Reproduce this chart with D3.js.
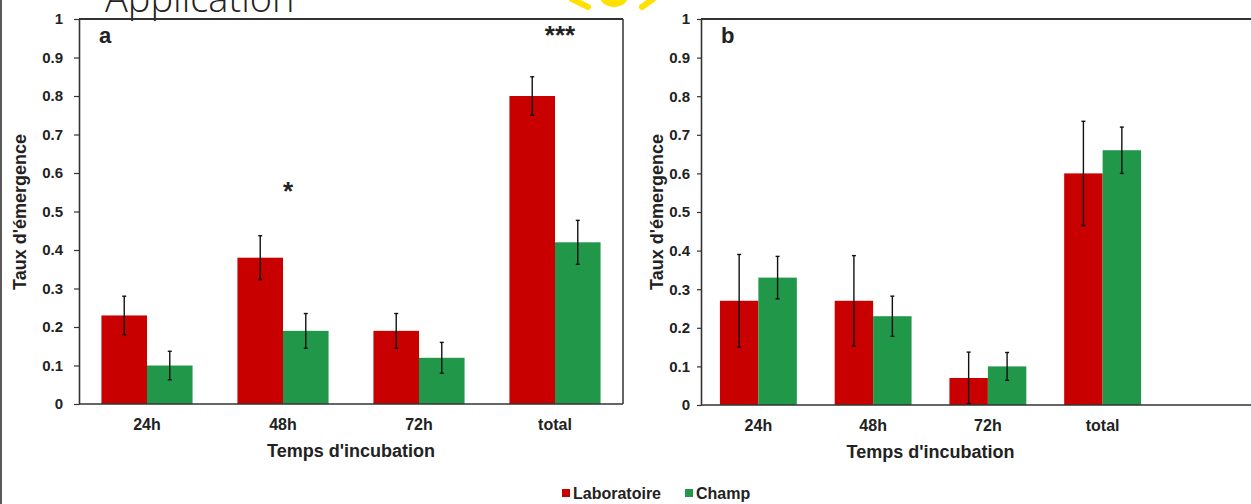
<!DOCTYPE html>
<html><head><meta charset="utf-8">
<script src="https://cdn.jsdelivr.net/npm/d3@7"></script>
<style>
html,body{margin:0;padding:0;background:#fff;}
svg{display:block;font-family:"Liberation Sans",Arial,sans-serif;}
</style></head>
<body><svg id="c" width="1251" height="504"></svg>
<script>
const categories = ["24h", "48h", "72h", "total"];
const series = ["Laboratoire", "Champ"];
const yTicks = [0, 0.1, 0.2, 0.3, 0.4, 0.5, 0.6, 0.7, 0.8, 0.9, 1];
// panel a
const labA = [0.23, 0.38, 0.19, 0.80];
const champA = [0.10, 0.19, 0.12, 0.42];
const labAErr = [0.05, 0.057, 0.045, 0.05];
const champAErr = [0.037, 0.045, 0.04, 0.057];
const sigA = ["", "*", "", "***"];
// panel b
const labB = [0.27, 0.27, 0.07, 0.60];
const champB = [0.33, 0.23, 0.10, 0.66];
const labBErr = [0.12, 0.117, 0.067, 0.135];
const champBErr = [0.055, 0.052, 0.036, 0.06];
const colors = ["#c80000", "#21974a"];

const svg = d3.select("#c");
svg.append("rect").attr("width",1251).attr("height",504).attr("fill","#fff");
// slide residue
svg.append("rect").attr("x",0).attr("y",0).attr("width",2).attr("height",504).attr("fill","#5a5a5a");
svg.append("text").attr("x",105).attr("y",12).attr("font-family","'Open Sans',sans-serif")
  .attr("font-weight",300).attr("font-size",38).attr("fill","#222").text("Application");
svg.append("ellipse").attr("cx",614).attr("cy",-6).attr("rx",15).attr("ry",13).attr("fill","#ffe100");
svg.append("line").attr("x1",572).attr("y1",-1).attr("x2",588).attr("y2",7)
  .attr("stroke","#ffe100").attr("stroke-width",6).attr("stroke-linecap","round");
svg.append("line").attr("x1",653).attr("y1",-1).attr("x2",642).attr("y2",7)
  .attr("stroke","#ffe100").attr("stroke-width",6).attr("stroke-linecap","round");

function panel(opt){
  const g = svg.append("g");
  const y = d3.scaleLinear().domain([0,1]).range([opt.y0, 19]);
  const x = d3.scaleBand().domain(categories).range([opt.x0, opt.x1]).paddingInner(0.33).paddingOuter(0.165);
  const xs = d3.scaleBand().domain(series).range([0, x.bandwidth()]);
  // frame
  g.append("line").attr("x1",opt.x0).attr("x2",opt.frameRight).attr("y1",19).attr("y2",19)
    .attr("stroke","#333").attr("stroke-width",1.8);
  if (opt.frameRight < 1251) {
    g.append("line").attr("x1",opt.frameRight).attr("x2",opt.frameRight).attr("y1",19).attr("y2",opt.y0)
      .attr("stroke","#333").attr("stroke-width",1.5);
  }
  // bars
  const vals = [opt.lab, opt.champ];
  const errs = [opt.labErr, opt.champErr];
  series.forEach((s, si) => {
    g.append("g").selectAll("rect").data(categories).join("rect")
      .attr("x", c => x(c) + xs(s))
      .attr("y", (c,i) => y(vals[si][i]))
      .attr("width", xs.bandwidth())
      .attr("height", (c,i) => y(0) - y(vals[si][i]))
      .attr("fill", colors[si]);
  });
  // error bars
  series.forEach((s, si) => {
    categories.forEach((c, i) => {
      const cx = x(c) + xs(s) + xs.bandwidth()/2;
      const hi = vals[si][i] + errs[si][i], lo = Math.max(0, vals[si][i] - errs[si][i]);
      g.append("line").attr("x1",cx).attr("x2",cx).attr("y1",y(hi)).attr("y2",y(lo))
        .attr("stroke","#111").attr("stroke-width",1.4);
      [hi, lo].forEach(v => g.append("line").attr("x1",cx-2).attr("x2",cx+2).attr("y1",y(v)).attr("y2",y(v))
        .attr("stroke","#111").attr("stroke-width",1.4));
    });
  });
  // y axis
  const ya = g.append("g").attr("transform",`translate(${opt.x0},0)`)
    .call(d3.axisLeft(y).tickValues(yTicks).tickFormat(d3.format("~g")).tickSizeInner(opt.tickSize).tickSizeOuter(0).tickPadding(opt.tickPad));
  ya.select(".domain").attr("stroke","#333").attr("stroke-width",1.6);
  ya.selectAll(".tick line").attr("stroke","#333").attr("stroke-width",1.2);
  ya.selectAll(".tick text").attr("font-size",15).attr("font-weight","bold").attr("fill","#222")
    .attr("font-family","'Liberation Sans',Arial,sans-serif");
  // x axis
  const xa = g.append("g").attr("transform",`translate(0,${opt.y0})`)
    .call(d3.axisBottom(x).tickSize(0).tickPadding(15));
  xa.select(".domain").remove();
  g.append("line").attr("x1",opt.x0).attr("x2",opt.frameRight).attr("y1",opt.y0).attr("y2",opt.y0)
    .attr("stroke","#333").attr("stroke-width",1.6);
  xa.selectAll(".tick text").attr("font-size",16).attr("font-weight","bold").attr("fill","#222")
    .attr("font-family","'Liberation Sans',Arial,sans-serif");
  // titles
  g.append("text").attr("x",(opt.x0+opt.x1)/2).attr("y",opt.y0+53).attr("text-anchor","middle")
    .attr("font-size",18).attr("font-weight","bold").attr("fill","#222").text("Temps d'incubation");
  g.append("text").attr("transform",`translate(${opt.yTitleX},212) rotate(-90)`).attr("text-anchor","middle")
    .attr("font-size",18).attr("font-weight","bold").attr("fill","#222").text("Taux d'émergence");
  g.append("text").attr("x",opt.x0+20).attr("y",43).attr("font-size",22).attr("font-weight","bold")
    .attr("fill","#222").text(opt.label);
  if (opt.sig) {
    categories.forEach((c, i) => {
      if (!opt.sig[i]) return;
      g.append("text").attr("x", x(c) + x.bandwidth()/2 + 5).attr("y", opt.sigY[i])
        .attr("text-anchor","middle").attr("font-size",26).attr("font-weight","bold").attr("fill","#222")
        .text(opt.sig[i]);
    });
  }
}

panel({x0:79, x1:623, frameRight:623, y0:404, lab:labA, champ:champA, labErr:labAErr, champErr:champAErr,
  tickSize:5, tickPad:11, yTitleX:26, label:"a", sig:sigA, sigY:[0,200,0,44]});
panel({x0:701, x1:1160, frameRight:1251, y0:405, lab:labB, champ:champB, labErr:labBErr, champErr:champBErr,
  tickSize:4, tickPad:7, yTitleX:663, label:"b"});

// legend
const leg = svg.append("g");
const legX = [562, 685];
series.forEach((s, i) => {
  leg.append("rect").attr("x", legX[i]).attr("y", 489).attr("width", 8).attr("height", 8).attr("fill", colors[i]);
  leg.append("text").attr("x", legX[i] + 11).attr("y", 499).attr("font-size", 16).attr("font-weight","bold")
    .attr("fill","#222").text(s);
});
</script></body></html>
